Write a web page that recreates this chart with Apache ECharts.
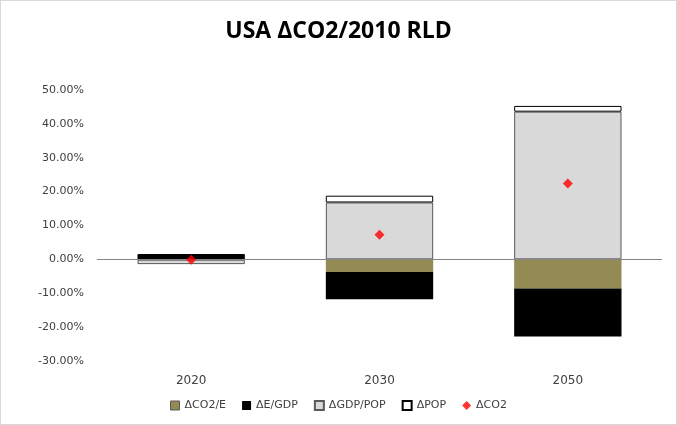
<!DOCTYPE html>
<html>
<head>
<meta charset="utf-8">
<script src="https://cdn.jsdelivr.net/npm/echarts@6/dist/echarts.min.js"></script>
<style>
    html, body { margin: 0; padding: 0; background: #fff; }
    #chart { width: 675px; height: 423px; border: 1px solid #d9d9d9; }
</style>
</head>
<body>
<div id="chart"></div>
<script>
// values in percent
var years = ['2020', '2030', '2050'];
var dCO2E = [-0.1, -3.7, -8.6];
var dEGDP = [1.3, -8.1, -14.2];
var dGDPPOP = [-1.3, 16.8, 43.6];
var dPOP = [0.2, 2.0, 1.7];
var dCO2 = [-0.1, 7.3, 22.4];

var textColor = '#404040';
var font = 'DejaVu Sans';

function barSeries(name, data, color, border) {
    return {
        name: name,
        type: 'bar',
        stack: 'total',
        data: data,
        barCategoryGap: '43%',
        z: 3,
        itemStyle: { color: color, borderColor: border, borderWidth: border ? 1 : 0 }
    };
}

var chart = echarts.init(document.getElementById('chart'));

var series = [
    // empty series only to hold the zero line behind the bars
    {
        name: 'zero',
        type: 'line',
        data: [],
        z: 1,
        markLine: {
            silent: true,
            symbol: 'none',
            label: { show: false },
            lineStyle: { color: '#868686', width: 1, type: 'solid' },
            data: [{ yAxis: 0 }]
        }
    },
    barSeries('ΔCO2/E', dCO2E, '#948A54', null),
    barSeries('ΔE/GDP', dEGDP, '#000000', null),
    barSeries('ΔGDP/POP', dGDPPOP, '#D9D9D9', '#595959'),
    barSeries('ΔPOP', dPOP, '#FFFFFF', '#000000'),
    {
        name: 'ΔCO2',
        type: 'scatter',
        data: dCO2,
        symbol: 'diamond',
        symbolSize: 10,
        itemStyle: { color: '#FF0000' },
        z: 5
    }
];

chart.setOption({
    animation: false,
    title: {
        text: 'USA ΔCO2/2010 RLD',
        left: 'center',
        top: 14,
        textStyle: { fontFamily: 'Open Sans', fontWeight: 'bold', fontSize: 23, color: '#000' }
    },
    grid: { left: 96, right: 14, top: 89, bottom: 63 },
    legend: {
        bottom: 8,
        left: 'center',
        itemWidth: 9,
        itemHeight: 9,
        itemGap: 16,
        textStyle: { fontFamily: font, fontSize: 11, color: textColor },
        data: [
            { name: 'ΔCO2/E', icon: 'rect', itemStyle: { borderColor: '#595959', borderWidth: 1 } },
            { name: 'ΔE/GDP', icon: 'rect' },
            { name: 'ΔGDP/POP', icon: 'rect' },
            { name: 'ΔPOP', icon: 'rect' },
            { name: 'ΔCO2', icon: 'diamond' }
        ]
    },
    xAxis: {
        type: 'category',
        data: years,
        axisLine: { show: false, onZero: false },
        axisTick: { show: false },
        axisLabel: { fontFamily: font, fontSize: 12, color: textColor, margin: 14 }
    },
    yAxis: {
        type: 'value',
        min: -30,
        max: 50,
        interval: 10,
        splitLine: { show: false },
        axisLine: { show: false },
        axisTick: { show: false },
        axisLabel: {
            fontFamily: font,
            fontSize: 11,
            color: textColor,
            margin: 13,
            formatter: function (v) { return v.toFixed(2) + '%'; }
        }
    },
    series: series
});
</script>
</body>
</html>
